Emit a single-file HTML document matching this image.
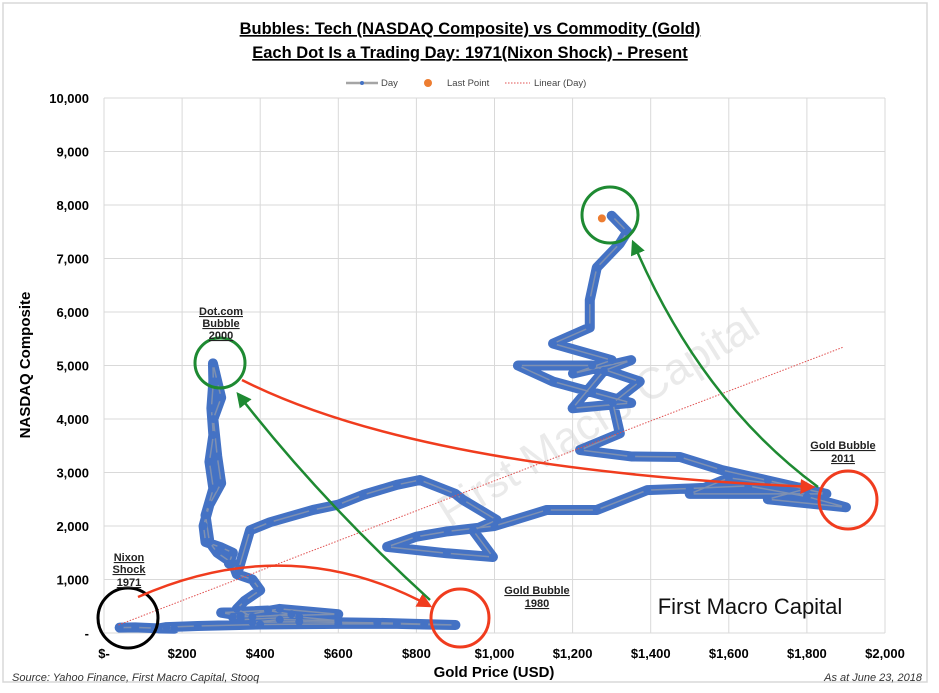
<!DOCTYPE html>
<html><head><meta charset="utf-8"><style>
html,body{margin:0;padding:0;background:#fff;}
svg{display:block;font-family:"Liberation Sans",sans-serif;}
</style></head><body>
<svg id="chart" width="939" height="693" viewBox="0 0 939 693">
<defs>
<marker id="ar" markerWidth="6" markerHeight="6" refX="5" refY="3" orient="auto" markerUnits="strokeWidth"><path d="M0,0 L6,3 L0,6 z" fill="#f03c1e"/></marker>
<marker id="ag" markerWidth="6" markerHeight="6" refX="5" refY="3" orient="auto" markerUnits="strokeWidth"><path d="M0,0 L6,3 L0,6 z" fill="#1e8a32"/></marker>
</defs>
<rect x="3" y="3" width="924" height="679" fill="#fff" stroke="#d8d8d8" stroke-width="1.5"/>
<text x="470" y="34" text-anchor="middle" font-size="16.5" font-weight="bold" text-decoration="underline">Bubbles: Tech (NASDAQ Composite) vs Commodity (Gold)</text>
<text x="470" y="58" text-anchor="middle" font-size="16.5" font-weight="bold" text-decoration="underline">Each Dot Is a Trading Day: 1971(Nixon Shock) - Present</text>
<g id="legend" font-size="9.5" fill="#444">
<g><line x1="346" y1="83" x2="378" y2="83" stroke="#a5a5a5" stroke-width="2.5"/><circle cx="362" cy="83" r="2" fill="#4472c4"/><text x="381" y="86">Day</text></g>
<g><circle cx="428" cy="83" r="4" fill="#ed7d31"/><text x="447" y="86">Last Point</text></g>
<g><line x1="505" y1="83" x2="530" y2="83" stroke="#e05050" stroke-width="1" stroke-dasharray="1.5,1.5"/><text x="534" y="86">Linear (Day)</text></g>
</g>
<g id="grid"></g>
<text x="606" y="430" text-anchor="middle" font-size="44" fill="#d0d0d0" fill-opacity="0.45" transform="rotate(-32 606 430)">First Macro Capital</text>
<g id="axes"></g>
<g id="series"></g>
<g id="annot">
<circle cx="128" cy="618" r="30" fill="none" stroke="#000" stroke-width="3"/>
<circle cx="460" cy="618" r="29" fill="none" stroke="#f03c1e" stroke-width="3"/>
<circle cx="220" cy="363" r="25" fill="none" stroke="#1e8a32" stroke-width="3"/>
<circle cx="610" cy="215" r="28" fill="none" stroke="#1e8a32" stroke-width="3"/>
<circle cx="848" cy="500" r="29" fill="none" stroke="#f03c1e" stroke-width="3"/>
<path d="M138,597 Q290,530 430,606" fill="none" stroke="#f03c1e" stroke-width="2.5" marker-end="url(#ar)"/>
<path d="M242,380 Q420,470 813,487" fill="none" stroke="#f03c1e" stroke-width="2.5" marker-end="url(#ar)"/>
<path d="M430,600 Q320,500 238,394" fill="none" stroke="#1e8a32" stroke-width="2.5" marker-end="url(#ag)"/>
<path d="M818,487 Q700,400 633,242" fill="none" stroke="#1e8a32" stroke-width="2.5" marker-end="url(#ag)"/>
<g font-size="11" font-weight="bold" text-anchor="middle" text-decoration="underline" fill="#222">
<text x="129" y="561">Nixon</text>
<text x="129" y="573">Shock</text>
<text x="129" y="586">1971</text>
<text x="221" y="315">Dot.com</text>
<text x="221" y="327">Bubble</text>
<text x="221" y="339">2000</text>
<text x="537" y="594">Gold Bubble</text>
<text x="537" y="607">1980</text>
<text x="843" y="449">Gold Bubble</text>
<text x="843" y="462">2011</text>
</g>
</g>
<text x="30" y="365" text-anchor="middle" font-size="15" font-weight="bold" transform="rotate(-90 30 365)">NASDAQ Composite</text>
<text x="494" y="677" text-anchor="middle" font-size="15" font-weight="bold">Gold Price (USD)</text>
<text x="12" y="681" font-size="11" font-style="italic" fill="#333">Source: Yahoo Finance, First Macro Capital, Stooq</text>
<text x="922" y="681" text-anchor="end" font-size="11" font-style="italic" fill="#333">As at June 23, 2018</text>
<text x="750" y="614" text-anchor="middle" font-size="22" fill="#111">First Macro Capital</text>
</svg>
<script>
const xTicks=[0,200,400,600,800,1000,1200,1400,1600,1800,2000];
const xTickLabels=["$-","$200","$400","$600","$800","$1,000","$1,200","$1,400","$1,600","$1,800","$2,000"];
const yTicks=[0,1000,2000,3000,4000,5000,6000,7000,8000,9000,10000];
const yTickLabels=["-","1,000","2,000","3,000","4,000","5,000","6,000","7,000","8,000","9,000","10,000"];
const goldPrices=[40,80,130,180,140,160,240,400,600,750,820,900,700,500,380,450,600,500,350,330,600,450,350,300,420,480,380,340,360,400,380,340,330,290,270,260,280,270,280,275,280,279,290,300,280,290,300,270,255,260,300,330,320,345,374,425,535,600,663,750,809,900,919,1006,945,996,878,725,800,880,1000,1134,1262,1391,1500,1650,1800,1900,1700,1800,1600,1500,1850,1700,1580,1475,1350,1219,1321,1303,1372,1250,1060,1150,1250,1350,1200,1280,1350,1201,1300,1150,1244,1244,1262,1321,1340,1300];
const nasdaqValues=[100,105,90,80,85,110,130,160,170,170,160,150,190,210,200,250,230,300,250,300,350,450,320,380,420,350,300,450,600,800,1000,1100,1300,1500,1700,2200,2700,3200,3700,4200,4700,5040,4700,4400,4000,3300,2800,2400,2000,1700,1600,1500,1300,1200,1920,2070,2300,2400,2580,2770,2860,2600,2490,2110,1920,1420,1490,1610,1800,1900,2000,2300,2300,2670,2700,2750,2550,2350,2500,2700,2900,2600,2600,2850,3050,3290,3300,3420,3730,4300,4700,5000,5000,4700,4500,4300,4200,4900,5100,4850,5100,5410,5710,6220,6830,7280,7500,7800];
const lastPoint=[1275,7750];
const trendStart=[37,150];
const trendEnd=[1894,5346];

const NS="http://www.w3.org/2000/svg";
const L=104,R=885,T=98,B=633;
function xs(v){return L+(v-0)/(2000-0)*(R-L);}
function ys(v){return B-(v-0)/(10000-0)*(B-T);}
function mk(tag,attrs,parent){const e=document.createElementNS(NS,tag);for(const k in attrs)e.setAttribute(k,attrs[k]);parent.appendChild(e);return e;}
const grid=document.getElementById('grid'),axes=document.getElementById('axes'),series=document.getElementById('series');
xTicks.forEach((t,i)=>{
  const g=mk('line',{x1:xs(t),x2:xs(t),y1:T,y2:B,stroke:'#d9d9d9','stroke-width':1},grid);
  
  
  const tx=mk('text',{x:xs(t),y:B+25,'text-anchor':'middle','font-size':13,'font-weight':'bold'},axes);
  tx.textContent=xTickLabels[i];
  
  
});
yTicks.forEach((t,i)=>{
  const g=mk('line',{x1:L,x2:R,y1:ys(t),y2:ys(t),stroke:'#d9d9d9','stroke-width':1},grid);
  
  
  const tx=mk('text',{x:L-15,y:ys(t)+5,'text-anchor':'end','font-size':13,'font-weight':'bold'},axes);
  tx.textContent=yTickLabels[i];
  
  
});
const pts=goldPrices.map((g,i)=>xs(g)+','+ys(nasdaqValues[i])).join(' ');
const thick=mk('polyline',{points:pts,fill:'none',stroke:'#4472c4','stroke-width':10,'stroke-linejoin':'round','stroke-linecap':'round'},series);


const ln=mk('polyline',{points:pts,fill:'none',stroke:'#a5a5a5','stroke-width':1.5,'stroke-opacity':0.6},series);


goldPrices.forEach((g,i)=>{
  const c=mk('circle',{cx:xs(g),cy:ys(nasdaqValues[i]),r:4,fill:'#4472c4'},series);
  
  
});
const tr=mk('line',{x1:xs(trendStart[0]),y1:ys(trendStart[1]),x2:xs(trendEnd[0]),y2:ys(trendEnd[1]),stroke:'#e05050','stroke-width':1,'stroke-dasharray':'1.5,1.5'},series);


const lp=mk('circle',{cx:xs(lastPoint[0]),cy:ys(lastPoint[1]),r:4,fill:'#ed7d31'},series);


</script>
</body></html>
